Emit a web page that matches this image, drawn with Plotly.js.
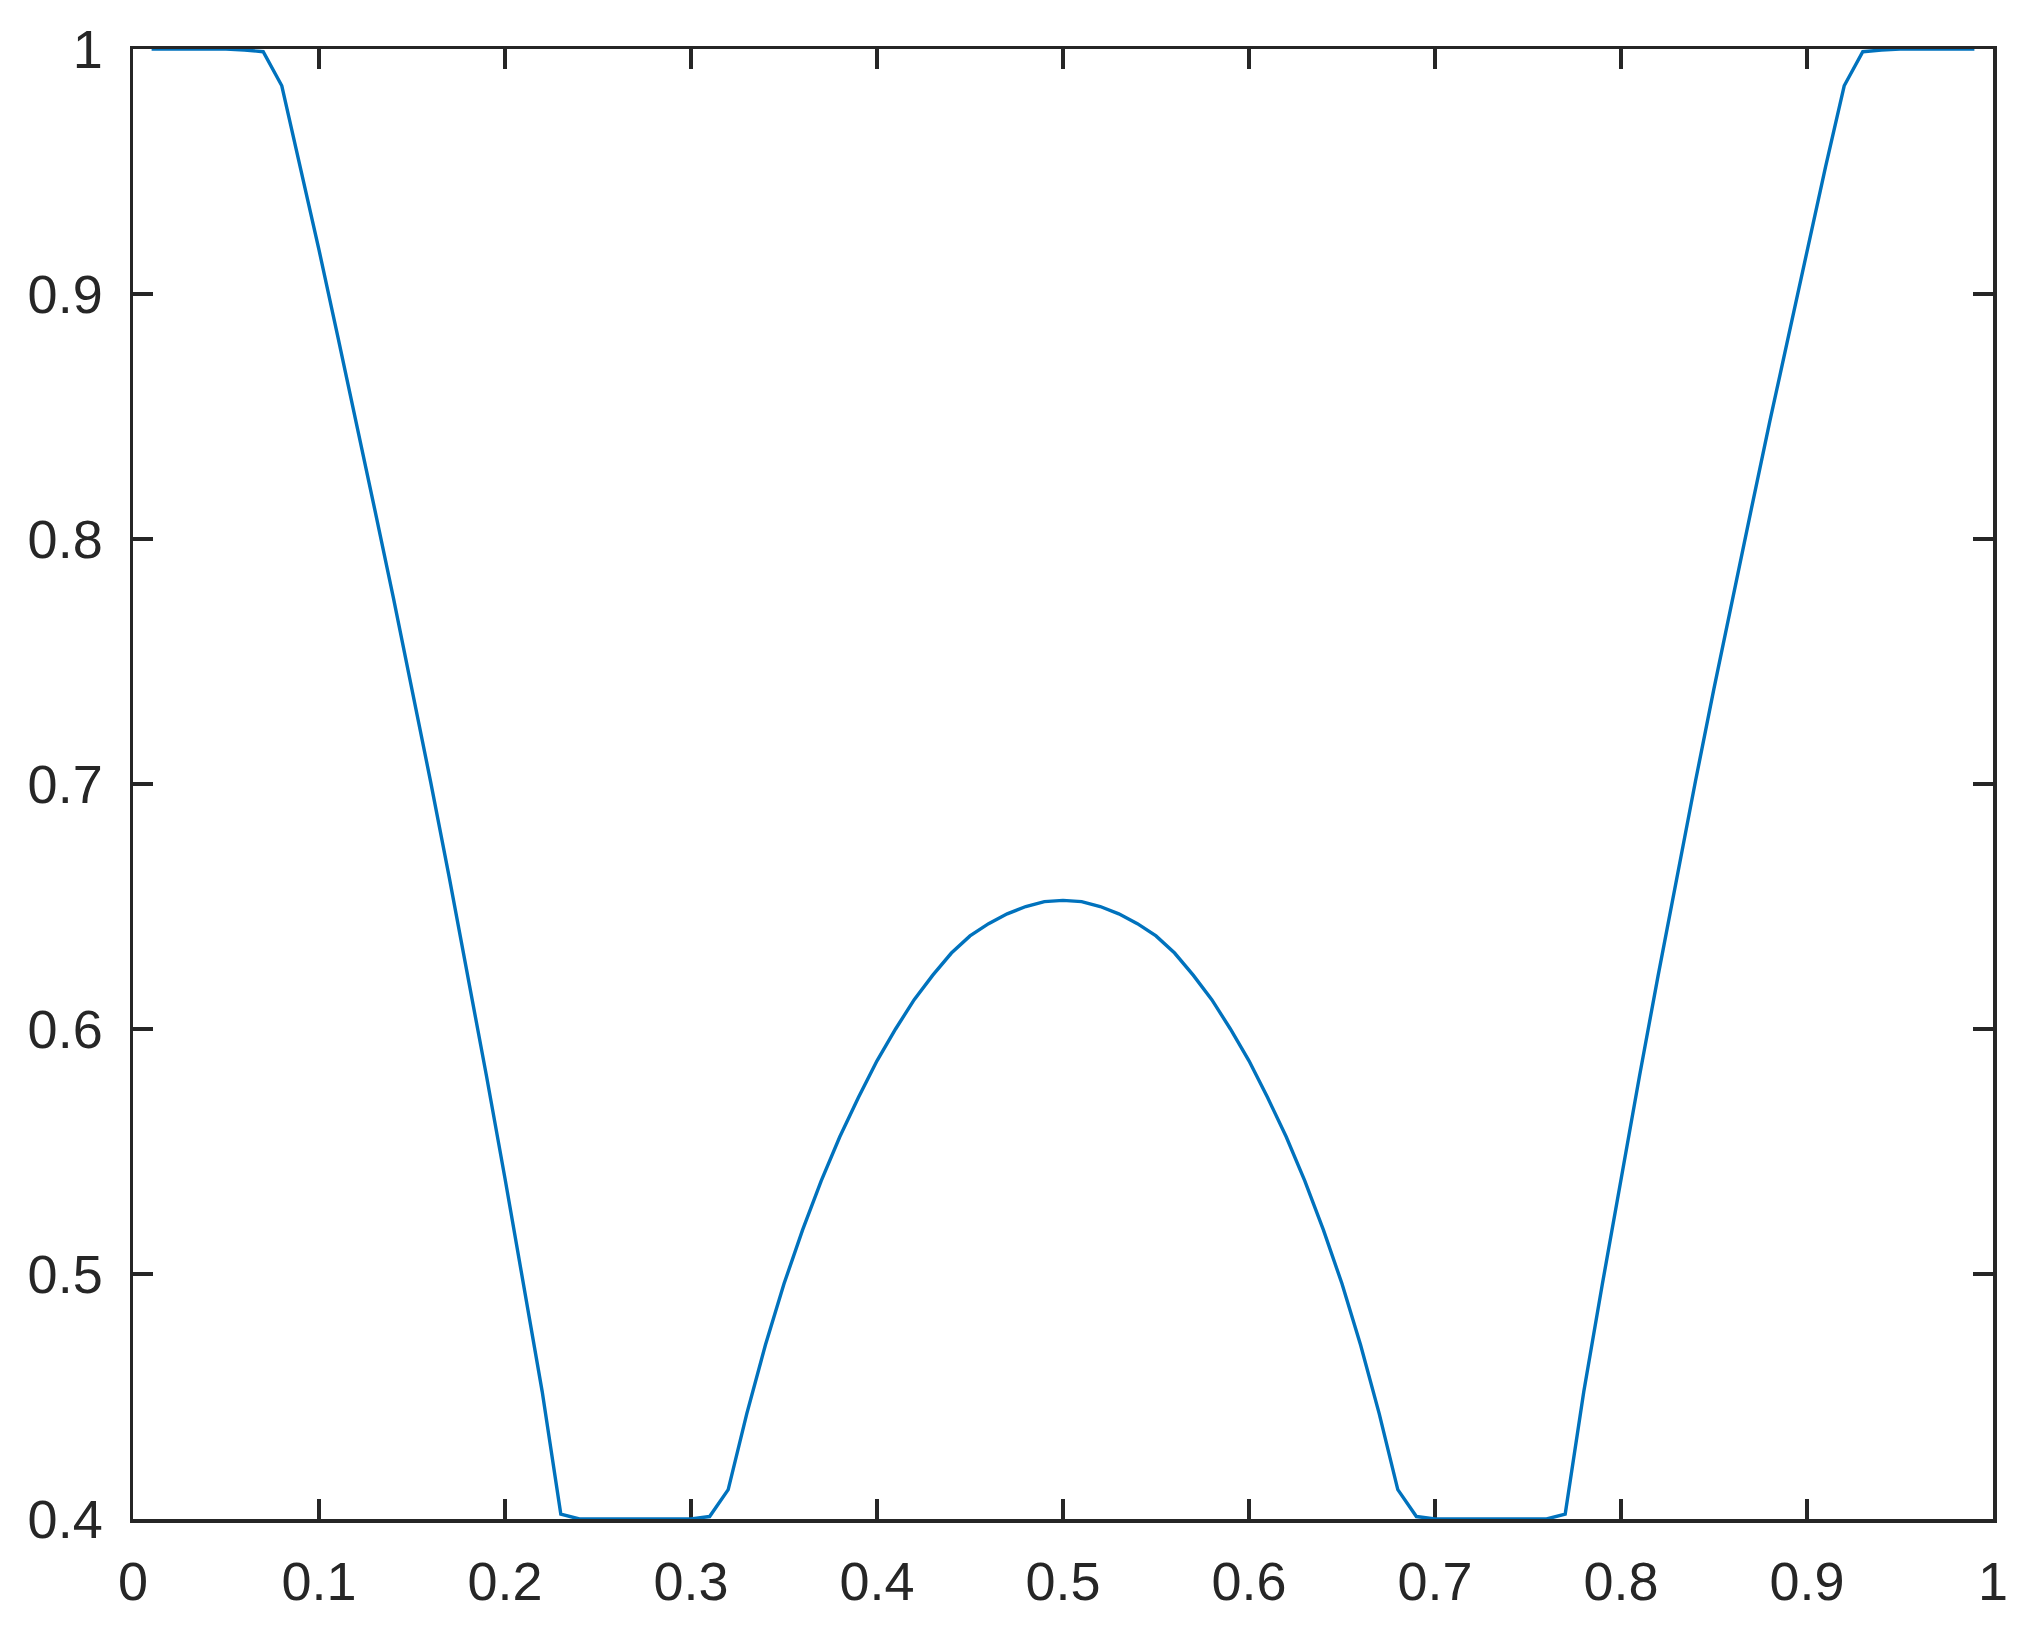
<!DOCTYPE html>
<html>
<head>
<meta charset="utf-8">
<script src="https://cdn.plot.ly/plotly-3.0.1.min.js"></script>
<style>
  html, body { margin: 0; padding: 0; background: #fff; }
  #chart { width: 2044px; height: 1636px; }
</style>
</head>
<body>
<div id="chart"></div>
<script>
const X_VALUES = [
  0.01, 0.02, 0.03, 0.04, 0.05, 0.06, 0.07, 0.08, 0.09, 0.10,
  0.11, 0.12, 0.13, 0.14, 0.15, 0.16, 0.17, 0.18, 0.19, 0.20,
  0.21, 0.22, 0.23, 0.24, 0.25, 0.26, 0.27, 0.28, 0.29, 0.30,
  0.31, 0.32, 0.33, 0.34, 0.35, 0.36, 0.37, 0.38, 0.39, 0.40,
  0.41, 0.42, 0.43, 0.44, 0.45, 0.46, 0.47, 0.48, 0.49, 0.50,
  0.51, 0.52, 0.53, 0.54, 0.55, 0.56, 0.57, 0.58, 0.59, 0.60,
  0.61, 0.62, 0.63, 0.64, 0.65, 0.66, 0.67, 0.68, 0.69, 0.70,
  0.71, 0.72, 0.73, 0.74, 0.75, 0.76, 0.77, 0.78, 0.79, 0.80,
  0.81, 0.82, 0.83, 0.84, 0.85, 0.86, 0.87, 0.88, 0.89, 0.90,
  0.91, 0.92, 0.93, 0.94, 0.95, 0.96, 0.97, 0.98, 0.99,
];

const Y_VALUES = [
  1, 1, 1, 1, 1, 0.9996, 0.9989, 0.985, 0.952, 0.918,
  0.883, 0.848, 0.812, 0.776, 0.739, 0.701, 0.662, 0.622, 0.581, 0.539,
  0.496, 0.452, 0.402, 0.4, 0.4, 0.4, 0.4, 0.4, 0.4, 0.4,
  0.401, 0.412, 0.443, 0.471, 0.496, 0.518, 0.538, 0.556, 0.572, 0.587,
  0.6, 0.612, 0.622, 0.631, 0.638, 0.643, 0.647, 0.65, 0.652, 0.6525,
  0.652, 0.65, 0.647, 0.643, 0.638, 0.631, 0.622, 0.612, 0.6, 0.587,
  0.572, 0.556, 0.538, 0.518, 0.496, 0.471, 0.443, 0.412, 0.401, 0.4,
  0.4, 0.4, 0.4, 0.4, 0.4, 0.4, 0.402, 0.452, 0.496, 0.539,
  0.581, 0.622, 0.662, 0.701, 0.739, 0.776, 0.812, 0.848, 0.883, 0.918,
  0.952, 0.985, 0.9989, 0.9996, 1, 1, 1, 1, 1,
];

const X_TICKS = [0, 0.1, 0.2, 0.3, 0.4, 0.5, 0.6, 0.7, 0.8, 0.9, 1];
const X_TICK_LABELS = ["0", "0.1", "0.2", "0.3", "0.4", "0.5", "0.6", "0.7", "0.8", "0.9", "1"];
const Y_TICKS = [0.4, 0.5, 0.6, 0.7, 0.8, 0.9, 1];
const Y_TICK_LABELS = ["0.4", "0.5", "0.6", "0.7", "0.8", "0.9", "1"];

const AXIS_COLOR = "#262626";
const LINE_COLOR = "#0072bd";

const trace = {
  x: X_VALUES,
  y: Y_VALUES,
  type: "scatter",
  mode: "lines",
  line: { color: LINE_COLOR, width: 3.4 },
  cliponaxis: false,
  hoverinfo: "skip",
};

const axisBase = {
  showgrid: false,
  zeroline: false,
  showline: true,
  linecolor: AXIS_COLOR,
  linewidth: 3.5,
  mirror: "ticks",
  ticks: "inside",
  ticklen: 20,
  tickwidth: 3.5,
  tickcolor: AXIS_COLOR,
  tickfont: { family: "Liberation Sans, Arial, sans-serif", size: 54, color: AXIS_COLOR },
  tickmode: "array",
  layer: "below traces",
};

const layout = {
  width: 2044,
  height: 1636,
  margin: { l: 133, r: 51, t: 49, b: 117 },
  paper_bgcolor: "white",
  plot_bgcolor: "white",
  showlegend: false,
  xaxis: {
    ...axisBase,
    range: [0, 1],
    tickvals: X_TICKS,
    ticktext: X_TICK_LABELS,
    ticklabelstandoff: 13,
  },
  yaxis: {
    ...axisBase,
    range: [0.4, 1],
    tickvals: Y_TICKS,
    ticktext: Y_TICK_LABELS,
    ticklabelstandoff: 16,
  },
};

Plotly.newPlot("chart", [trace], layout, { displayModeBar: false, staticPlot: true });
</script>
</body>
</html>
